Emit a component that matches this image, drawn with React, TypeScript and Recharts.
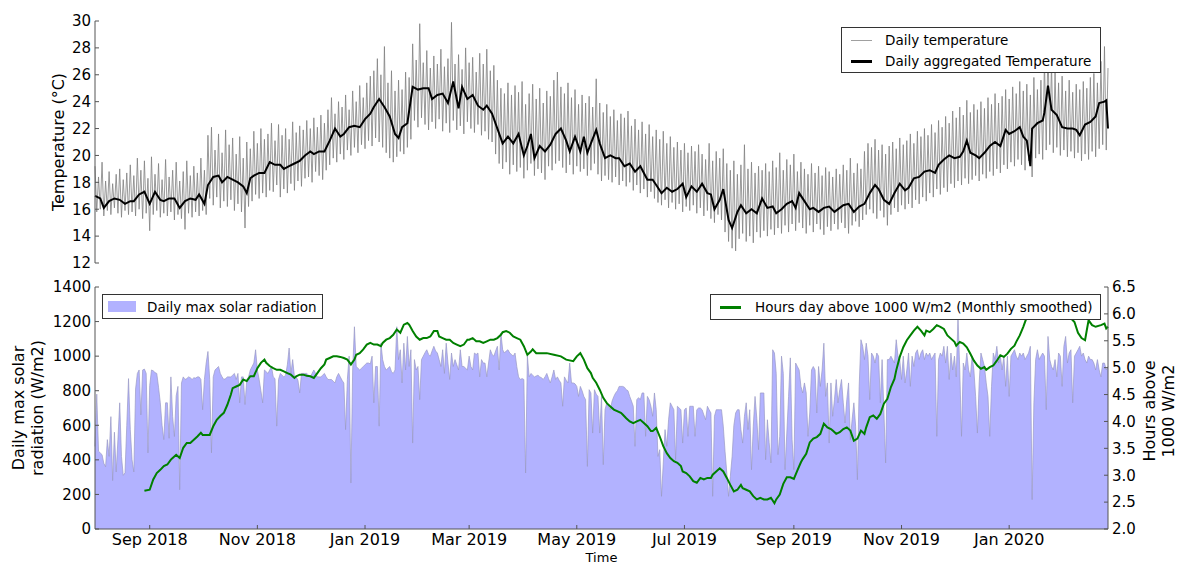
import { ComposedChart, LineChart, Line, Area, XAxis, YAxis, Legend } from "recharts"

// ============================================
// DATA  (day 0 = 1 Aug 2018)
// ============================================

const X_DOMAIN: [number, number] = [0, 574]
const xTickDays = [31, 92, 153, 212, 273, 334, 396, 457, 518]
const xTickLabels = ["Sep 2018", "Nov 2018", "Jan 2019", "Mar 2019", "May 2019", "Jul 2019", "Sep 2019", "Nov 2019", "Jan 2020"]
const tempTicks = [12, 14, 16, 18, 20, 22, 24, 26, 28, 30]
const solarTicks = [0, 200, 400, 600, 800, 1000, 1200, 1400]
const hourTicks = [2.0, 2.5, 3.0, 3.5, 4.0, 4.5, 5.0, 5.5, 6.0, 6.5]

// daily temperature: daily highs on even days, lows on odd days
const tempHigh = [
  19.2, 18.4, 19.5, 18.1, 18.8, 17.9, 18.6, 19.0, 18.2, 18.7,
  19.3, 18.5, 19.8, 18.9, 19.6, 18.3, 19.9, 18.6, 19.4, 18.2,
  19.7, 18.4, 18.9, 19.5, 18.1, 18.8, 19.6, 18.5, 19.2, 18.7,
  19.8, 18.9, 21.5, 22.1, 20.4, 21.6, 20.2, 21.9, 20.8, 21.3,
  20.1, 21.4, 19.8, 21.0, 20.5, 21.8, 20.9, 22.0, 21.2, 21.6,
  22.4, 21.1, 22.3, 21.5, 22.0, 21.2, 22.5, 21.7, 22.2, 21.9,
  22.6, 22.0, 22.8, 22.1, 23.0, 22.4, 23.4, 24.3, 23.1, 24.0,
  23.6, 24.5, 23.4, 24.8, 24.0, 25.2, 24.3, 25.4, 25.9, 26.3,
  27.2, 26.0, 28.1, 25.4, 26.3, 24.8, 25.6, 24.9, 26.2, 25.8,
  28.3, 27.1, 29.8, 26.9, 27.8, 26.5, 27.4, 26.8, 27.9, 26.6,
  27.2, 29.9, 26.8, 27.5, 26.4, 28.0, 26.9, 27.3, 26.2, 27.6,
  26.8, 27.9, 26.3, 26.7, 25.6, 25.0, 24.6, 25.4, 24.5, 25.2,
  24.7, 25.5, 23.8, 24.6, 25.3, 24.2, 25.0, 23.9, 24.8, 24.4,
  25.6, 26.2, 25.1, 24.6, 25.4, 24.3, 24.9, 23.8, 24.5, 23.9,
  24.4, 23.6, 25.7, 23.9, 23.2, 23.8, 22.9, 23.4, 22.6, 23.1,
  22.8, 23.3, 22.2, 22.7, 21.9, 22.5, 21.6, 22.3, 21.4, 21.9,
  21.2, 21.8, 20.9, 21.4, 20.6, 21.0, 20.4, 20.9, 20.2, 20.7,
  20.3, 20.8, 20.1, 19.7, 20.9, 19.6, 20.3, 19.8, 20.5, 19.4,
  18.9, 19.6, 18.6, 19.3, 20.8, 19.0, 19.5, 18.7, 19.2, 18.9,
  19.4, 18.8, 19.6, 19.1, 20.2, 18.9, 19.7, 19.3, 20.1, 18.8,
  19.5, 19.0, 18.6, 19.4, 18.7, 19.2, 18.5, 19.1, 18.8, 18.4,
  19.0, 18.6, 19.3, 18.9, 19.8, 18.7, 19.4, 19.0, 20.3, 20.9,
  20.6, 21.2, 20.4, 20.8, 20.1, 20.7, 21.0, 20.5, 21.3, 20.8,
  21.1, 21.6, 20.9, 21.8, 21.4, 22.0, 21.5, 22.3, 21.7, 22.6,
  22.1, 22.9, 22.4, 23.3, 22.8, 23.6, 23.0, 24.1, 23.2, 23.8,
  23.4, 24.0, 23.5, 24.3, 23.8, 24.6, 23.9, 24.4, 24.9, 24.2,
  25.1, 24.6, 25.5, 24.8, 25.3, 24.5, 25.8, 24.9, 25.6, 27.1,
  28.2, 26.9, 26.2, 25.4, 25.9, 24.8, 25.6, 24.7, 25.3, 24.9,
  25.5, 25.0, 25.8, 26.1, 25.4, 27.0, 28.1, 26.5,
]
const tempLow = [
  15.8, 16.0, 15.5, 15.9, 15.6, 16.1, 15.7, 15.4, 15.9, 15.6,
  15.8, 15.5, 16.0, 15.3, 15.7, 14.4, 15.6, 15.9, 15.4, 15.7,
  15.5, 15.8, 15.2, 15.6, 15.3, 14.5, 15.7, 15.4, 15.8, 15.5,
  15.9, 15.6, 16.8, 16.3, 16.9, 16.1, 16.6, 16.2, 16.7, 15.9,
  16.4, 15.8, 14.6, 16.2, 16.6, 17.1, 16.8, 17.2, 16.9, 17.4,
  17.3, 17.8, 16.9, 17.5, 17.2, 17.9, 17.4, 18.1, 17.7, 18.3,
  18.4, 18.0, 18.8, 18.5, 18.2, 18.9, 19.3, 19.8, 19.5, 20.1,
  19.7, 20.4, 20.0, 20.6, 20.2, 20.8, 20.5, 21.1, 20.7, 21.3,
  21.0, 20.6, 20.2, 19.8, 19.5, 19.9, 20.3, 20.1, 20.6, 21.2,
  22.6, 22.1, 22.8, 22.3, 21.9, 22.5, 22.0, 22.7, 21.8, 22.4,
  21.7, 22.6, 21.9, 22.2, 21.6, 22.5, 22.0, 21.7, 22.3, 21.5,
  21.8, 21.2, 21.0, 20.1, 19.4, 19.0, 19.5, 18.6, 19.3, 18.8,
  19.1, 18.3, 18.9, 19.4, 18.5, 19.0, 18.7, 18.2, 19.2, 18.9,
  19.4, 19.6, 19.1, 18.7, 19.3, 18.6, 19.2, 18.8, 19.0, 18.5,
  18.9, 19.4, 18.6, 18.1, 18.5, 18.2, 18.0, 18.4, 17.8, 18.1,
  17.7, 18.0, 17.4, 17.8, 17.2, 17.5, 16.9, 17.3, 16.8, 16.5,
  16.3, 16.7, 16.1, 16.5, 16.0, 16.4, 15.8, 16.2, 15.9, 16.3,
  15.7, 16.1, 15.5, 15.9, 15.3, 15.0, 15.6, 15.2, 14.3, 13.6,
  13.1, 12.9, 13.8, 14.2, 13.6, 14.0, 13.5, 14.3, 13.9, 14.4,
  14.0, 14.5, 14.1, 14.6, 14.2, 14.8, 14.3, 14.9, 14.4, 15.0,
  14.6, 14.2, 14.8, 14.3, 14.9, 14.5, 14.1, 14.7, 14.4, 14.9,
  14.5, 15.0, 14.6, 14.2, 14.8, 15.1, 14.7, 15.2, 15.6, 16.0,
  15.7, 15.3, 15.9, 15.4, 14.8, 15.6, 16.1, 15.8, 16.3, 16.0,
  16.4, 16.1, 16.7, 16.4, 16.9, 16.6, 17.2, 16.9, 17.5, 17.1,
  17.6, 17.3, 17.9, 17.6, 18.1, 17.8, 18.3, 17.9, 18.2, 18.5,
  18.1, 18.6, 18.3, 18.8, 18.5, 19.0, 18.7, 19.3, 19.0, 19.5,
  19.2, 19.7, 19.3, 18.9, 19.6, 18.4, 19.8, 20.1, 19.7, 20.4,
  20.8, 20.2, 20.6, 20.0, 20.4, 19.9, 20.3, 19.8, 20.2, 19.6,
  20.1, 19.7, 20.3, 19.9, 20.5, 20.8, 20.4,
]

// daily aggregated temperature, read at these days
const aggDay = [
  0, 3, 5, 8, 11, 14, 17, 20, 22, 25, 28, 31, 34, 37, 39, 42, 45, 48, 51, 54,
  57, 59, 62, 64, 67, 70, 72, 75, 78, 81, 84, 86, 88, 90, 93, 96, 99, 102, 105, 107,
  110, 113, 116, 119, 122, 124, 127, 130, 133, 136, 139, 141, 144, 147, 150, 153, 156, 158, 161, 164,
  167, 170, 172, 174, 177, 180, 183, 186, 189, 191, 194, 197, 200, 203, 206, 208, 211, 214, 217, 220,
  222, 225, 228, 231, 234, 237, 240, 243, 245, 247, 249, 252, 255, 258, 261, 264, 267, 269, 272, 275,
  277, 279, 281, 284, 286, 289, 292, 295, 297, 300, 303, 306, 309, 313, 316, 318, 321, 324, 327, 330,
  333, 335, 338, 341, 344, 347, 349, 351, 354, 356, 359, 361, 364, 366, 369, 372, 375, 378, 381, 384,
  386, 389, 392, 395, 397, 399, 402, 405, 407, 410, 413, 416, 419, 422, 424, 427, 430, 433, 436, 439,
  442, 444, 447, 450, 453, 456, 459, 461, 464, 467, 470, 473, 476, 478, 481, 484, 487, 490, 492, 494,
  496, 499, 501, 504, 507, 510, 513, 516, 518, 521, 524, 526, 528, 530, 531, 534, 537, 538, 540, 542,
  545, 548, 551, 554, 556, 558, 561, 564, 567, 569, 572, 573, 574,
]
const aggTemp = [
  17.0, 16.8, 16.1, 16.6, 16.8, 16.7, 16.4, 16.6, 16.6, 17.1, 17.3, 16.4, 17.3, 16.7, 16.6, 16.8, 16.8, 16.1, 16.6, 16.8,
  16.7, 17.1, 16.4, 17.8, 18.4, 18.5, 18.0, 18.4, 18.2, 18.0, 17.7, 17.2, 18.3, 18.5, 18.7, 18.7, 19.5, 19.3, 19.3, 19.0,
  19.2, 19.4, 19.6, 20.0, 20.3, 20.1, 20.3, 20.3, 21.1, 22.0, 21.4, 21.6, 22.1, 22.2, 22.1, 22.7, 23.1, 23.6, 24.2, 23.6,
  22.9, 21.6, 21.3, 22.1, 22.4, 25.1, 24.9, 25.0, 25.0, 24.2, 24.5, 24.6, 23.9, 25.5, 23.5, 25.1, 24.2, 24.5, 23.7, 23.4,
  23.7, 23.1, 22.0, 20.9, 21.4, 20.9, 21.6, 20.0, 20.7, 21.6, 19.8, 20.7, 20.3, 20.8, 21.6, 22.0, 21.1, 20.3, 21.4, 20.3,
  21.4, 20.2, 20.9, 21.9, 20.9, 19.8, 20.0, 19.8, 19.8, 19.2, 19.4, 18.8, 19.2, 18.2, 18.2, 17.8, 17.2, 17.6, 17.3, 17.5,
  17.9, 16.9, 17.7, 17.3, 17.9, 17.2, 17.1, 16.0, 16.7, 17.5, 15.2, 14.6, 15.8, 16.3, 15.7, 16.0, 15.7, 16.8, 16.1, 16.2,
  15.7, 16.0, 16.4, 16.6, 16.1, 17.2, 16.6, 16.0, 16.1, 15.8, 16.1, 16.2, 15.8, 16.1, 16.3, 16.4, 15.8, 16.2, 16.4, 17.2,
  17.8, 17.5, 16.7, 16.4, 17.2, 17.9, 17.4, 17.6, 18.3, 18.4, 18.8, 18.9, 18.7, 19.3, 19.7, 20.0, 19.8, 19.9, 20.3, 21.1,
  20.2, 20.0, 19.8, 20.2, 20.7, 21.0, 20.7, 21.9, 21.6, 21.8, 22.1, 21.4, 21.1, 19.2, 22.0, 22.4, 22.6, 23.2, 25.2, 23.4,
  23.0, 22.1, 22.0, 22.0, 21.9, 21.5, 22.3, 22.5, 22.9, 23.9, 24.0, 24.1, 22.0,
]

// daily max solar radiation (W/m2), one value per day
const solarMax = [
  478, 780, 450, 440, 430, 380, 360, 517, 420, 650,
  280, 560, 330, 520, 730, 420, 310, 325, 600, 870,
  575, 400, 330, 810, 900, 920, 660, 920, 925, 900,
  440, 830, 920, 915, 905, 900, 820, 730, 600, 517,
  730, 730, 525, 880, 650, 535, 770, 825, 227, 845,
  880, 865, 870, 880, 875, 865, 875, 873, 880, 880,
  865, 690, 865, 960, 1027, 865, 440, 880, 920, 930,
  940, 900, 880, 865, 870, 880, 880, 880, 890, 900,
  865, 900, 730, 880, 880, 720, 865, 880, 920, 940,
  960, 1037, 920, 865, 800, 730, 920, 910, 900, 920,
  940, 880, 870, 595, 865, 900, 890, 880, 890, 950,
  1047, 900, 980, 880, 880, 860, 787, 900, 900, 900,
  900, 890, 880, 900, 920, 900, 880, 880, 880, 890,
  900, 880, 865, 865, 865, 855, 845, 880, 900, 880,
  860, 845, 575, 865, 1000, 266, 920, 1170, 940, 930,
  920, 930, 940, 950, 960, 960, 955, 1000, 730, 940,
  940, 595, 1075, 980, 940, 920, 930, 940, 910, 900,
  920, 1170, 980, 1037, 845, 1075, 920, 1114, 940, 1037,
  497, 980, 920, 940, 748, 980, 1000, 1020, 1037, 1010,
  1000, 1030, 1057, 1030, 1018, 980, 940, 1037, 900, 1075,
  960, 865, 1018, 940, 980, 950, 920, 1037, 940, 940,
  930, 920, 1000, 940, 920, 1018, 1010, 1018, 880, 980,
  960, 960, 880, 960, 1037, 1010, 1000, 1030, 1057, 920,
  1134, 1037, 1018, 1030, 1037, 1018, 1010, 1000, 1018, 940,
  880, 865, 870, 865, 324, 1000, 880, 900, 890, 880,
  885, 890, 880, 875, 865, 880, 900, 870, 845, 880,
  920, 865, 880, 860, 845, 710, 880, 860, 845, 960,
  845, 845, 840, 825, 767, 825, 800, 767, 748, 362,
  806, 787, 555, 806, 780, 767, 555, 767, 372, 690,
  730, 710, 690, 740, 767, 787, 800, 825, 825, 825,
  820, 806, 800, 767, 740, 710, 478, 748, 760, 748,
  787, 787, 536, 767, 748, 710, 652, 787, 690, 420,
  459, 189, 382, 575, 478, 632, 730, 710, 690, 401,
  710, 700, 690, 497, 690, 700, 536, 710, 710, 710,
  536, 690, 700, 700, 690, 660, 632, 710, 690, 671,
  189, 652, 690, 690, 690, 690, 595, 450, 324, 189,
  305, 420, 600, 671, 690, 690, 575, 497, 652, 730,
  575, 690, 343, 595, 767, 640, 459, 787, 787, 787,
  401, 632, 500, 382, 1037, 1018, 900, 430, 536, 1000,
  900, 343, 555, 767, 990, 517, 343, 960, 940, 920,
  825, 787, 845, 787, 536, 671, 920, 940, 920, 671,
  940, 825, 920, 1075, 767, 845, 497, 845, 652, 748,
  865, 730, 806, 865, 730, 613, 748, 845, 517, 632,
  730, 595, 285, 825, 1095, 1057, 980, 1075, 1000, 748,
  1018, 1000, 960, 1018, 1000, 730, 980, 690, 382, 980,
  980, 1000, 980, 960, 1095, 1000, 980, 865, 1000, 845,
  920, 1018, 825, 1000, 940, 1018, 1037, 980, 1018, 1037,
  980, 1018, 1000, 1018, 980, 1000, 1018, 536, 980, 1018,
  1000, 1057, 960, 1057, 865, 1018, 920, 1000, 880, 1230,
  920, 536, 960, 920, 1018, 920, 880, 1000, 920, 767,
  555, 845, 1018, 980, 940, 845, 767, 536, 825, 1018,
  980, 1057, 960, 1000, 920, 1000, 825, 1000, 767, 1000,
  1018, 1037, 1000, 980, 1018, 1000, 1018, 980, 1000, 1018,
  1057, 170, 730, 980, 1037, 980, 1000, 1018, 1000, 690,
  1114, 980, 940, 920, 980, 880, 1018, 1000, 825, 1057,
  1114, 960, 1018, 1037, 730, 1000, 1018, 1037, 1057, 1000,
  1018, 980, 960, 1000, 980, 980, 960, 920, 980, 920,
  880, 960, 960, 920, 940,
]

// hours per day above 1000 W/m2, monthly smoothed, read at these days
const hoursDay = [
  28, 31, 33, 35, 37, 39, 41, 43, 44, 46, 48, 50, 52, 54, 56, 58, 60, 61, 63, 65,
  67, 69, 71, 73, 75, 77, 78, 80, 82, 84, 86, 88, 90, 92, 94, 96, 97, 99, 101, 103,
  105, 107, 109, 111, 113, 114, 116, 118, 120, 122, 124, 126, 128, 130, 131, 133, 135, 137, 139, 141,
  143, 145, 147, 148, 150, 152, 154, 156, 158, 160, 162, 163, 165, 167, 169, 171, 173, 175, 177, 178,
  180, 182, 184, 186, 188, 190, 192, 194, 195, 197, 199, 201, 203, 205, 207, 209, 211, 212, 214, 216,
  218, 220, 222, 224, 226, 228, 230, 231, 233, 235, 237, 239, 241, 243, 245, 247, 248, 250, 252, 256,
  260, 264, 267, 271, 273, 275, 277, 279, 281, 282, 284, 286, 288, 290, 292, 294, 298, 299, 301, 303,
  305, 307, 309, 311, 313, 315, 316, 318, 320, 322, 324, 326, 328, 330, 332, 333, 335, 337, 339, 341,
  343, 345, 347, 349, 350, 352, 354, 356, 358, 360, 362, 364, 366, 367, 369, 371, 373, 375, 377, 379,
  381, 383, 385, 386, 388, 390, 392, 394, 396, 398, 400, 401, 403, 405, 407, 409, 411, 413, 415, 417,
  418, 420, 422, 424, 426, 428, 430, 432, 434, 436, 437, 439, 441, 443, 445, 447, 449, 451, 453, 454,
  456, 458, 460, 462, 464, 466, 468, 470, 471, 473, 475, 477, 479, 481, 483, 485, 487, 488, 490, 492,
  494, 496, 498, 500, 502, 504, 505, 507, 509, 511, 513, 515, 517, 519, 521, 522, 524, 526, 528, 530,
  534, 538, 541, 545, 549, 552, 555, 557, 559, 561, 562, 563, 565, 567, 570, 572, 573, 574,
]
const hoursVal = [
  2.71, 2.73, 2.92, 3.04, 3.10, 3.17, 3.20, 3.29, 3.32, 3.38, 3.32, 3.51, 3.60, 3.60, 3.66, 3.72, 3.79, 3.75, 3.75, 3.75,
  3.91, 4.03, 4.10, 4.16, 4.31, 4.50, 4.62, 4.65, 4.68, 4.78, 4.75, 4.84, 4.84, 4.99, 5.09, 5.15, 5.09, 5.03, 4.99, 4.96,
  4.96, 4.93, 4.90, 4.87, 4.81, 4.84, 4.87, 4.87, 4.85, 4.84, 4.81, 4.90, 4.99, 5.06, 5.15, 5.18, 5.21, 5.21, 5.20, 5.18,
  5.15, 5.06, 5.15, 5.24, 5.27, 5.34, 5.43, 5.46, 5.43, 5.43, 5.40, 5.46, 5.52, 5.55, 5.61, 5.71, 5.65, 5.80, 5.83, 5.80,
  5.68, 5.58, 5.52, 5.55, 5.55, 5.58, 5.68, 5.68, 5.58, 5.55, 5.52, 5.52, 5.46, 5.43, 5.40, 5.43, 5.52, 5.52, 5.55, 5.49,
  5.49, 5.46, 5.49, 5.52, 5.52, 5.55, 5.61, 5.66, 5.68, 5.65, 5.58, 5.55, 5.52, 5.40, 5.24, 5.30, 5.34, 5.27, 5.27, 5.27,
  5.24, 5.21, 5.15, 5.12, 5.21, 5.27, 5.15, 4.99, 4.90, 4.81, 4.72, 4.59, 4.44, 4.34, 4.28, 4.22, 4.16, 4.13, 4.06, 4.00,
  3.97, 4.00, 4.03, 3.97, 3.91, 3.82, 3.82, 3.88, 3.72, 3.54, 3.41, 3.32, 3.26, 3.23, 3.17, 3.07, 3.04, 2.98, 2.89, 2.86,
  2.95, 2.92, 2.95, 2.95, 3.01, 3.07, 3.13, 3.07, 2.95, 2.82, 2.70, 2.73, 2.82, 2.76, 2.73, 2.70, 2.61, 2.55, 2.58, 2.55,
  2.55, 2.58, 2.48, 2.55, 2.64, 2.84, 2.96, 2.96, 2.93, 3.09, 3.24, 3.30, 3.40, 3.61, 3.68, 3.71, 3.77, 3.96, 3.89, 3.86,
  3.83, 3.77, 3.80, 3.86, 3.89, 3.83, 3.64, 3.68, 3.83, 3.77, 3.89, 4.08, 4.11, 4.05, 4.14, 4.33, 4.42, 4.64, 4.79, 4.95,
  5.20, 5.38, 5.51, 5.60, 5.69, 5.76, 5.69, 5.60, 5.69, 5.66, 5.72, 5.79, 5.76, 5.72, 5.60, 5.54, 5.48, 5.41, 5.48, 5.45,
  5.38, 5.26, 5.13, 5.04, 4.98, 5.01, 4.96, 5.01, 5.04, 5.13, 5.23, 5.20, 5.26, 5.35, 5.41, 5.48, 5.60, 5.76, 5.94, 6.02,
  6.05, 6.08, 6.06, 6.04, 6.00, 5.95, 5.85, 5.65, 5.55, 5.51, 5.70, 5.88, 5.79, 5.76, 5.79, 5.82, 5.73, 5.76,
]

// ============================================
// TABLE
// ============================================

const aggByDay = new Map(aggDay.map((d, i) => [d, aggTemp[i]]))
const hoursByDay = new Map(hoursDay.map((d, i) => [d, hoursVal[i]]))

const rows = solarMax.map((solar, day) => ({
  day,
  temp: day % 2 === 0 ? tempHigh[day / 2] : tempLow[(day - 1) / 2],
  agg: aggByDay.get(day) ?? null,
  solar,
  hours: hoursByDay.get(day) ?? null,
}))

// ============================================
// STYLE
// ============================================

const FONT = "'DejaVu Sans', sans-serif"
const FRAME = "#555555"
const GREY = "#808080"
const GREEN = "#008000"
const SOLAR_FILL = "#b2b2ff"

const legendBox = {
  position: "absolute" as const,
  background: "#fff",
  border: "1px solid #333",
  boxSizing: "border-box" as const,
  fontSize: 13.5,
  fontFamily: FONT,
  color: "#000",
}

function TopLegend() {
  return (
    <div style={{ ...legendBox, left: 0, top: 0, width: 260, height: 46 }}>
      <div style={{ position: "absolute", left: 9, top: 12, width: 21, height: 1, background: "#a0a0a0" }} />
      <div style={{ position: "absolute", left: 43, top: 3, lineHeight: "18px" }}>Daily temperature</div>
      <div style={{ position: "absolute", left: 9, top: 32, width: 21, height: 2.5, background: "#000" }} />
      <div style={{ position: "absolute", left: 43, top: 24, lineHeight: "18px" }}>Daily aggregated Temperature</div>
    </div>
  )
}

function SolarLegend() {
  return (
    <div style={{ ...legendBox, left: 0, top: 0, width: 221, height: 25 }}>
      <div style={{ position: "absolute", left: 5, top: 6, width: 28, height: 11, background: SOLAR_FILL }} />
      <div style={{ position: "absolute", left: 44, top: 3, lineHeight: "18px" }}>Daily max solar radiation</div>
    </div>
  )
}

function HoursLegend() {
  return (
    <div style={{ ...legendBox, left: 0, top: 0, width: 391, height: 26 }}>
      <div style={{ position: "absolute", left: 9, top: 11, width: 21, height: 2.5, background: GREEN }} />
      <div style={{ position: "absolute", left: 44, top: 3, lineHeight: "18px" }}>
        Hours day above 1000 W/m2 (Monthly smoothed)
      </div>
    </div>
  )
}

function VerticalTitle({ lines, x, cy, gap }: { lines: string[]; x: number; cy: number; gap: number }) {
  return (
    <g>
      {lines.map((line, i) => {
        const bx = x + i * gap
        return (
          <text
            key={line}
            x={bx}
            y={cy}
            transform={`rotate(-90 ${bx} ${cy})`}
            textAnchor="middle"
            fontSize={16}
            fill="#000"
            style={{ fontFamily: FONT }}
          >
            {line}
          </text>
        )
      })}
    </g>
  )
}

const tickText = { fontSize: 15, fill: "#000", fontFamily: FONT }

// ============================================
// COMPONENT
// ============================================

export default function App() {
  return (
    <div style={{ position: "absolute", left: 0, top: 0, width: 1177, height: 565, background: "#fff", fontFamily: FONT }}>
      {/* Temperature panel */}
      <div style={{ position: "absolute", left: 0, top: 0 }}>
        <LineChart width={1177} height={280} data={rows} margin={{ top: 21, right: 69, bottom: 17, left: 35 }}>
          <XAxis
            dataKey="day"
            type="number"
            domain={X_DOMAIN}
            ticks={xTickDays}
            tick={false}
            tickSize={-4}
            height={0}
            stroke={FRAME}
          />
          <XAxis
            xAxisId="top"
            orientation="top"
            dataKey="day"
            type="number"
            domain={X_DOMAIN}
            ticks={xTickDays}
            tick={false}
            tickSize={-4}
            height={0}
            stroke={FRAME}
          />
          <YAxis
            domain={[12, 30]}
            ticks={tempTicks}
            interval={0}
            tickSize={-4}
            tickMargin={8}
            width={60}
            tick={tickText}
            stroke={FRAME}
            allowDataOverflow
            label={{ content: () => <VerticalTitle lines={["Temperature (°C)"]} x={64} cy={142} gap={0} /> }}
          />
          <YAxis
            yAxisId="r"
            orientation="right"
            domain={[12, 30]}
            ticks={tempTicks}
            interval={0}
            tick={false}
            tickSize={-4}
            width={0}
            stroke={FRAME}
          />
          <Line
            dataKey="temp"
            type="linear"
            stroke={GREY}
            strokeWidth={0.8}
            dot={false}
            activeDot={false}
            isAnimationActive={false}
          />
          <Line
            dataKey="agg"
            type="linear"
            stroke="#000"
            strokeWidth={2}
            dot={false}
            activeDot={false}
            connectNulls
            isAnimationActive={false}
          />
          <Legend
            layout="vertical"
            verticalAlign="middle"
            align="center"
            content={<TopLegend />}
            wrapperStyle={{ position: "absolute", left: 841, top: 27, width: 260, height: 46 }}
          />
        </LineChart>
      </div>

      {/* Solar panel */}
      <div style={{ position: "absolute", left: 0, top: 270 }}>
        <ComposedChart width={1177} height={295} data={rows} margin={{ top: 17, right: 19, bottom: 6, left: 35 }}>
          <XAxis
            dataKey="day"
            type="number"
            domain={X_DOMAIN}
            ticks={xTickDays}
            interval={0}
            tickFormatter={(v: number) => xTickLabels[xTickDays.indexOf(v)]}
            tickSize={-4}
            tickMargin={9}
            height={30}
            tick={{ ...tickText, fontSize: 16 }}
            stroke={FRAME}
            label={{ value: "Time", position: "bottom", offset: -6, fontSize: 13, fill: "#000" }}
          />
          <XAxis
            xAxisId="top"
            orientation="top"
            dataKey="day"
            type="number"
            domain={X_DOMAIN}
            ticks={xTickDays}
            tick={false}
            tickSize={-4}
            height={0}
            stroke={FRAME}
          />
          <YAxis
            yAxisId="solar"
            domain={[0, 1400]}
            ticks={solarTicks}
            interval={0}
            tickSize={-4}
            tickMargin={8}
            width={60}
            tick={tickText}
            stroke={FRAME}
            allowDataOverflow
            label={{
              content: () => (
                <VerticalTitle lines={["Daily max solar", "radiation (W/m2)"]} x={23.5} cy={138} gap={19.5} />
              ),
            }}
          />
          <YAxis
            yAxisId="hours"
            orientation="right"
            domain={[2, 6.5]}
            ticks={hourTicks}
            interval={0}
            tickFormatter={(v: number) => v.toFixed(1)}
            tickSize={-4}
            tickMargin={8}
            width={50}
            tick={tickText}
            stroke={FRAME}
            allowDataOverflow
            label={{
              content: () => <VerticalTitle lines={["Hours above", "1000 W/m2"]} x={1155} cy={141} gap={18.5} />,
            }}
          />
          <Area
            yAxisId="solar"
            dataKey="solar"
            type="linear"
            fill={SOLAR_FILL}
            fillOpacity={1}
            stroke="#9a9ac4"
            strokeWidth={0.7}
            dot={false}
            activeDot={false}
            isAnimationActive={false}
          />
          <Line
            yAxisId="hours"
            dataKey="hours"
            type="linear"
            stroke={GREEN}
            strokeWidth={2}
            dot={false}
            activeDot={false}
            connectNulls
            isAnimationActive={false}
          />
          <Legend
            layout="vertical"
            verticalAlign="middle"
            align="center"
            content={
              <div>
                <div style={{ position: "absolute", left: 102, top: 24 }}>
                  <SolarLegend />
                </div>
                <div style={{ position: "absolute", left: 710, top: 24 }}>
                  <HoursLegend />
                </div>
              </div>
            }
            wrapperStyle={{ position: "absolute", left: 0, top: 0, width: 0, height: 0 }}
          />
        </ComposedChart>
      </div>
    </div>
  )
}
